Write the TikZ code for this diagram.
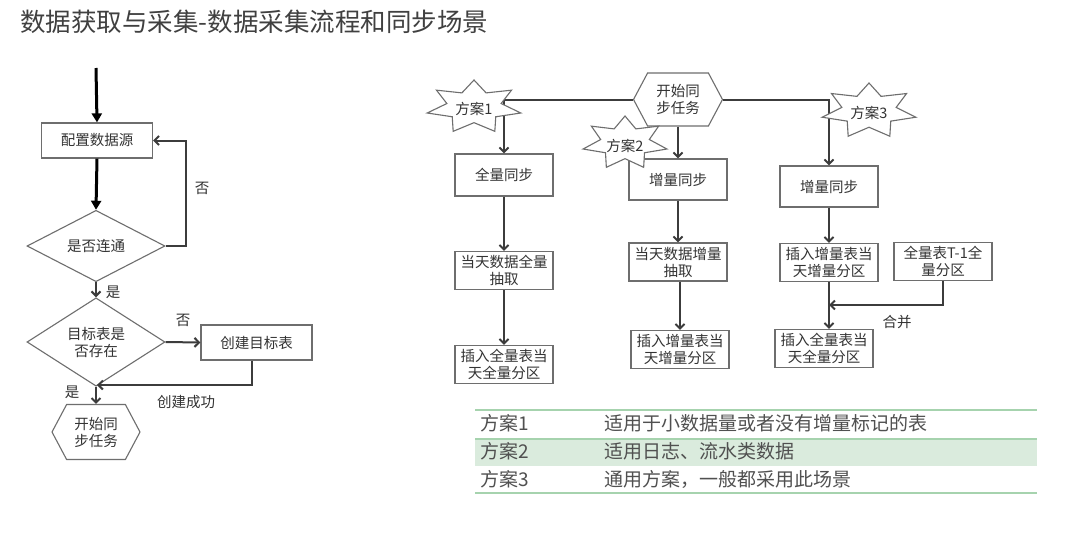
\documentclass[tikz,border=0pt]{standalone}
\usepackage{fontspec}
\setmainfont{Noto Sans CJK SC}
\usepackage{xcolor}
\usepackage{tikz}
\usetikzlibrary{arrows.meta,positioning,calc,shapes.geometric,shapes.symbols}
\definecolor{ink}{HTML}{333333}
\definecolor{edge}{HTML}{6E6E6E}
\definecolor{wire}{HTML}{3C3C3C}
\definecolor{titlegray}{HTML}{404040}
\definecolor{rulegreen}{HTML}{A6D3AE}
\definecolor{rowgreen}{HTML}{DAEBDD}
\definecolor{tabletext}{HTML}{505050}
\tikzset{
  txt/.style={font=\fontsize{14.5}{17}\selectfont, text=ink, align=center},
  box/.style={txt, draw=edge, line width=1.2pt, fill=white, minimum width=98pt, minimum height=38pt, inner sep=1pt},
  cond/.style={txt, diamond, draw=edge, line width=1.1pt, fill=white, minimum width=138pt, minimum height=64pt, inner sep=0pt},
  hexa/.style={txt, signal, signal to=east and west, signal pointer angle=124, draw=edge, line width=1.1pt, fill=white, inner sep=0pt},
  conn/.style={-{Straight Barb[length=4.5pt,width=9pt]}, line width=2pt, color=wire},
  bold/.style={-{Triangle[length=9pt,width=10pt]}, line width=3pt, color=black},
  starline/.style={draw=edge, line width=1.1pt, fill=white, line join=miter},
  lbl/.style={txt},
  cell/.style={font=\fontsize{19}{20}\selectfont, text=tabletext, anchor=west, inner sep=0pt}
}
\newcommand\planstar[3]{%
  \draw[starline,shift={(#1)}] plot[samples at={0,...,13},variable=\k]
    ({(0.79+0.21*cos(180*\k))*#2*cos(90+\k*360/14)},{-(0.79+0.21*cos(180*\k))*#3*sin(90+\k*360/14)}) -- cycle;}

\begin{document}
\begin{tikzpicture}[x=1pt,y=-1pt]
  \useasboundingbox[fill=white] (0,0) rectangle (1074,549);
  \node[anchor=west,font=\fontsize{25.5}{28}\selectfont,text=titlegray,inner sep=0pt] (title) at (20,22)
    {数据获取与采集-数据采集流程和同步场景};

  \coordinate (entry) at (96,68);
  \node[box,minimum width=111pt,minimum height=35pt] (cfg) at (97,140.5) {配置数据源};
  \node[cond] (link) at (96,246) {是否连通};
  \node[cond] (exist) at (96,342) {目标表是\\否存在};
  \node[box,minimum width=111pt,minimum height=35pt] (create) at (256.5,342.5) {创建目标表};
  \node[hexa,minimum width=88pt,minimum height=55pt] (start) at (96,432) {开始同\\步任务};
  \coordinate (done) at (97,385);

  \draw[bold] (entry) -- (cfg.north);
  \draw[bold] (cfg.south) -- (link.north);
  \draw[conn] (link.east) -- ++(20,0) |- (cfg.east);
  \node[lbl] (no1) at (202,188) {否};
  \draw[conn] (link.south) -- (exist.north);
  \node[lbl] (yes1) at (113,292) {是};
  \draw[conn] (exist.east) -- (create.west);
  \node[lbl] (no2) at (183,320) {否};
  \draw[conn] ([xshift=-5pt]create.south) |- (done);
  \node[lbl] (ok) at (186,402) {创建成功};
  \draw[conn] (exist.south) -- (start.north);
  \node[lbl] (yes2) at (72,392) {是};

  \node[hexa,minimum width=89pt,minimum height=53pt] (sync) at (678,99.5) {开始同\\步任务};
  \node[box,minimum height=42pt] (full) at (504,175) {全量同步};
  \node[box] (fullget) at (504,270.5) {当天数据全量\\抽取};
  \node[box] (fullput) at (504,364.5) {插入全量表当\\天全量分区};
  \node[box,minimum height=41pt] (inc) at (678,179.5) {增量同步};
  \node[box] (incget) at (678,262) {当天数据增量\\抽取};
  \node[box] (incput) at (680,349.5) {插入增量表当\\天增量分区};
  \node[box,minimum height=41pt] (mix) at (829,186.5) {增量同步};
  \node[box] (mixput) at (829,262.5) {插入增量表当\\天增量分区};
  \node[box] (prev) at (943,261.5) {全量表T-1全\\量分区};
  \node[box] (mixall) at (824,348.5) {插入全量表当\\天全量分区};
  \coordinate (join) at (829,305);

  \draw[conn] (sync.west) -| (full.north);
  \draw[conn] (sync.east) -| (mix.north);
  \draw[conn] (sync.south) -- (inc.north);
  \draw[conn] (full.south) -- (fullget.north);
  \draw[conn] (fullget.south) -- (fullput.north);
  \draw[conn] (inc.south) -- (incget.north);
  \draw[conn] (incget.south -| incput.north) -- (incput.north);
  \draw[conn] (mix.south) -- (mixput.north);
  \draw[conn] (mixput.south) -- (mixput.south |- mixall.north);
  \draw[conn] (prev.south) |- (join);
  \node[lbl] (merge) at (897,322) {合并};

  \coordinate (s1c) at (474,107);
  \coordinate (s2c) at (625,143);
  \coordinate (s3c) at (869,111);
  \planstar{s1c}{48}{27}
  \planstar{s2c}{43}{27}
  \planstar{s3c}{48}{28}
  \node[txt] (s1) at ([yshift=-2pt]s1c) {方案1};
  \node[txt] (s2) at ([yshift=-3pt]s2c) {方案2};
  \node[txt] (s3) at ([yshift=-2pt]s3c) {方案3};

  \fill[rowgreen] (475,439) rectangle (1037,466);
  \foreach \y in {410,439,493}{\draw[rulegreen,line width=1.3pt] (475,\y) -- (1037,\y);}
  \node[cell] (p1) at (480,423) {方案1};
  \node[cell] (p2) at (480,451) {方案2};
  \node[cell] (p3) at (480,479) {方案3};
  \node[cell] (d1) at (604,423) {适用于小数据量或者没有增量标记的表};
  \node[cell] (d2) at (604,451) {适用日志、流水类数据};
  \node[cell] (d3) at (604,479) {通用方案，一般都采用此场景};
\end{tikzpicture}
\end{document}
